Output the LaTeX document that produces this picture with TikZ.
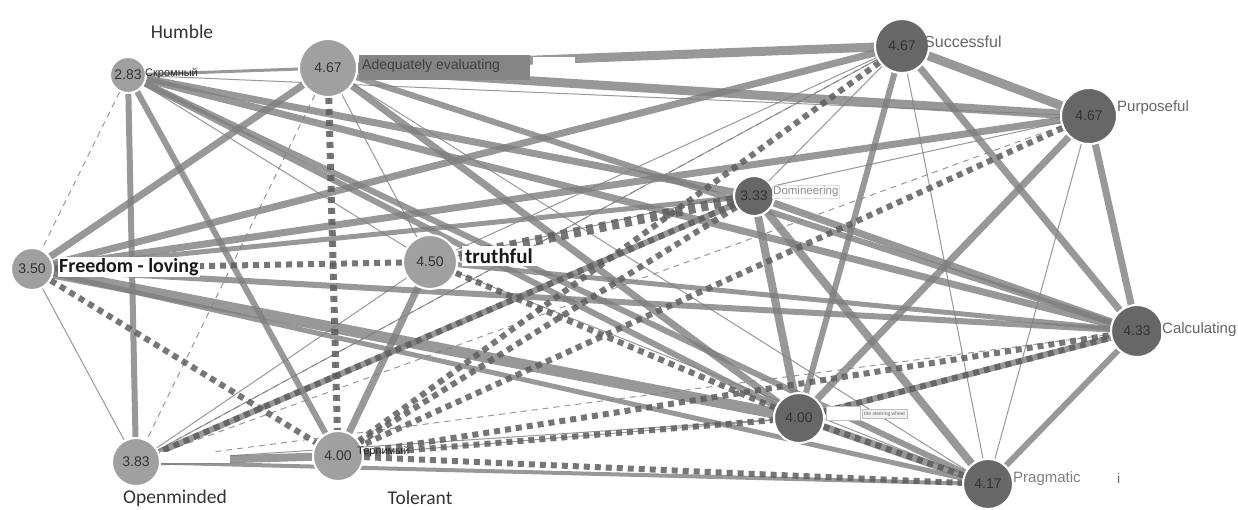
\documentclass[tikz,border=0pt]{standalone}
\usepackage{fontspec}
\setmainfont{Liberation Sans}
\newfontfamily\calib{Carlito}
\usetikzlibrary{backgrounds}
\definecolor{edgec}{HTML}{7E7E7E}
\definecolor{dotc}{HTML}{5E5E5E}
\definecolor{lightn}{HTML}{A0A0A0}
\definecolor{darkn}{HTML}{676767}
\tikzset{
  vn/.style={circle, draw=white, line width=2pt, inner sep=0pt, text=black!80, font=\fontsize{14}{14}\selectfont},
  ln/.style={vn, fill=lightn},
  dn/.style={vn, fill=darkn},
  ed/.style={draw=edgec, draw opacity=0.8, line cap=butt},
  ex/.style={ed, line width=8pt},
  em/.style={ed, line width=5pt},
  en/.style={ed, line width=1pt},
  edash/.style={ed, line width=1pt, dash pattern=on 6pt off 5pt},
  edot/.style={draw=dotc, draw opacity=0.85, line width=6pt, dash pattern=on 6pt off 5pt},
  ebig/.style={draw=dotc, draw opacity=0.85, line width=10pt, dash pattern=on 7pt off 6pt},
  lab/.style={anchor=west, inner sep=1pt},
  cal/.style={font=\calib\fontsize{19.5}{20}\selectfont, text=black!80, inner sep=1pt},
  wbox/.style={fill=white, inner sep=0pt, anchor=west},
}
\begin{document}
\begin{tikzpicture}[x=1pt,y=-1pt]
\useasboundingbox (0,0) rectangle (1238,509);
% vertices
\node[ln, minimum size=36pt] (H) at (128,75) {2.83};
\node[ln, minimum size=58pt] (A) at (328,68) {4.67};
\node[dn, minimum size=54pt] (S) at (902,46) {4.67};
\node[dn, minimum size=56pt] (P) at (1089,116) {4.67};
\node[dn, minimum size=40pt] (D) at (754,196) {3.33};
\node[ln, minimum size=42pt] (F) at (32,269) {3.50};
\node[ln, minimum size=54pt] (T) at (430,262) {4.50};
\node[dn, minimum size=52pt] (C) at (1137,331) {4.33};
\node[dn, minimum size=50pt] (W) at (799,418) {4.00};
\node[dn, minimum size=50pt] (G) at (988,484) {4.17};
\node[ln, minimum size=48pt] (O) at (136,462) {3.83};
\node[ln, minimum size=50pt] (L) at (338,456) {4.00};
\begin{pgfonlayer}{background}
% thick / medium / thin solid
\draw[em, line width=3pt] (H) -- (A);
\draw[en] (H) -- (P);
\draw[em, line width=6pt] (H) -- (O);
\draw[em, line width=6pt] (H) -- (L);
\draw[en] (H) -- (T);
\draw[ex, line width=7pt] (H) -- (D);
\draw[ex, line width=7pt] (H) -- (C);
\draw[ex, line width=6pt] (H) -- (W);
\draw[ex, line width=6pt] (H) -- (G);
\draw[ex, line width=9pt] (A) -- (S);
\draw[ex, line width=9pt] (A) -- (P);
\draw[ex, line width=7pt] (A) -- (F);
\draw[en] (A) -- (T);
\draw[ex, line width=7pt] (A) -- (W);
\draw[ex, line width=6pt] (A) -- (C);
\draw[en] (A) -- (G);
\draw[ex, line width=9pt] (S) -- (P);
\draw[ex, line width=7pt] (S) -- (C);
\draw[en] (S) -- (G);
\draw[ex, line width=6pt] (S) -- (W);
\draw[en] (S) -- (D);
\draw[ex, line width=7pt] (S) -- (F);
\draw[en] (S) -- (T);
\draw[en] (S) -- (O);
\draw[ex, line width=7pt] (P) -- (F);
\draw[ex, line width=7pt] (P) -- (C);
\draw[en] (P) -- (G);
\draw[ex, line width=7pt] (P) -- (W);
\draw[en] (P) -- (T);
\draw[ex, line width=8pt] (D) -- (W);
\draw[ex, line width=8pt] (D) -- (G);
\draw[ex, line width=7pt] (D) -- (C);
\draw[em] (D) -- (F);
\draw[ex, line width=7pt] (T) -- (L);
\draw[en] (T) -- (O);
\draw[em] (T) -- (C);
\draw[en] (T) -- (G);
\draw[en] (F) -- (O);
\draw[ex, line width=11pt] (F) -- (W);
\draw[ex, line width=6pt] (F) -- (C);
\draw[em] (F) -- (G);
\draw[ex, line width=8pt] (O) -- (L);
\draw[ex, line width=6pt] (O) -- (D);
\draw[en] (O) -- (W);
\draw[em, line width=4pt] (O) -- (G);
\draw[en] (L) -- (W);
\draw[ex, line width=6pt] (W) -- (C);
\draw[ex, line width=7pt] (W) -- (G);
\draw[ex, line width=6pt] (C) -- (G);
% dashed
\draw[edash] (H) -- (F);
\draw[edash] (A) -- (O);
\draw[edash] (S) -- (O);
\draw[edash] (P) -- (O);
\draw[edash] (O) -- (C);
\draw[edash] (A) -- (L);
% dotted
\draw[edot, line width=7pt] (A) -- (L);
\draw[edot] (S) -- (L);
\draw[edot] (P) -- (L);
\draw[ebig] (D) -- (T);
\draw[edot] (D) -- (O);
\draw[edot] (D) -- (L);
\draw[edot] (T) -- (F);
\draw[edot] (T) -- (W);
\draw[edot] (F) -- (L);
\draw[edot] (L) -- (G);
\draw[edot] (L) -- (C);
\draw[edot] (L) -- (W);
\draw[edot] (W) -- (C);
\draw[edot] (W) -- (G);
\end{pgfonlayer}
% labels
\node[cal] (lH) at (182,32) {Humble};
\node[lab, font=\fontsize{11}{11}\selectfont, text=black!85] (rH) at (144,74) {Скромный};
\node[wbox, fill=edgec!95, minimum width=171pt, minimum height=25pt] (lAbg) at (359,67) {};
\node[lab, font=\fontsize{14}{14}\selectfont, text=black!75] (lA) at (361,66) {Adequately evaluating};
\node[wbox, minimum width=42pt, minimum height=13pt] (wA) at (533,63) {};
\node[lab, font=\fontsize{16}{16}\selectfont, text=black!60] (lS) at (923,42) {Successful};
\node[lab, font=\fontsize{15}{15}\selectfont, text=black!60] (lP) at (1116,108) {Purposeful};
\node[lab, font=\fontsize{11.5}{12}\selectfont, text=black!45, fill=white, draw=black!12] (lD) at (772,192) {Domineering};
\node[lab, font=\calib\bfseries\fontsize{20}{20}\selectfont, text=black!90, fill=white] (lF) at (58,267) {Freedom - loving};
\node[lab, font=\calib\bfseries\fontsize{21}{21}\selectfont, text=black!90, fill=white, inner sep=3pt] (lT) at (462,256) {truthful};
\node[lab, font=\fontsize{15}{15}\selectfont, text=black!60, fill=white] (lC) at (1161,330) {Calculating};
\node[lab, font=\fontsize{15}{15}\selectfont, text=black!50] (lG) at (1012,479) {Pragmatic};
\node[lab, font=\fontsize{14}{14}\selectfont, text=black!60] (iG) at (1116,478) {i};
\node[cal] (lO) at (175,498) {Openminded};
\node[cal] (lL) at (420,498) {Tolerant};
\node[lab, font=\fontsize{11}{11}\selectfont, text=black!85] (rL) at (356,452) {Терпимый};
\node[wbox, minimum width=70pt, minimum height=11pt] (wO) at (160,457) {};
\node[wbox, draw=black!25, minimum width=34pt, minimum height=14pt] (wW) at (826,413) {};
\node[lab, font=\fontsize{5}{5}\selectfont, text=black!60, fill=black!5, draw=black!25, inner sep=2pt] (lW) at (862,414) {the steering wheel};
\end{tikzpicture}
\end{document}
